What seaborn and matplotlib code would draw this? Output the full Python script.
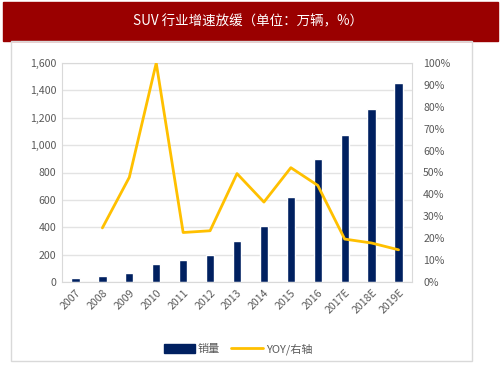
import numpy as np
import pandas as pd
import matplotlib
matplotlib.use("Agg")
import matplotlib.pyplot as plt
import matplotlib.patches as mpatches
from matplotlib.lines import Line2D
from matplotlib.ticker import FuncFormatter, MultipleLocator
import seaborn as sns

# Data
years = ['2007', '2008', '2009', '2010', '2011', '2012', '2013', '2014',
         '2015', '2016', '2017E', '2018E', '2019E']
sales = [32, 45, 66, 132, 159, 200, 296, 407, 622, 900, 1074, 1264, 1453]
yoy = [np.nan, 0.247, 0.478, 1.00, 0.226, 0.234, 0.495, 0.365,
       0.522, 0.441, 0.196, 0.178, 0.147]

df = pd.DataFrame({'year': years, 'sales': sales, 'yoy': yoy})
df['pos'] = np.arange(len(df))

sns.set_style("white")
plt.rcParams['font.family'] = ['Noto Sans CJK SC', 'DejaVu Sans']

bar_color = '#002060'
line_color = '#FFC000'
tick_color = '#595959'
grid_color = '#E3E3E3'

fig = plt.figure(figsize=(5.03, 3.78), dpi=100)

# Title banner and outer frame
fig.patches.append(mpatches.Rectangle((3 / 503, 1 - 41 / 378), 495 / 503, 39 / 378,
                                      transform=fig.transFigure, color='#9A0000', zorder=0))
fig.patches.append(mpatches.Rectangle((11 / 503, 1 - 361 / 378), 461 / 503, 320 / 378,
                                      transform=fig.transFigure, fill=False,
                                      edgecolor='#D9D9D9', linewidth=1, zorder=0))
fig.text(248 / 503, 1 - 21 / 378, 'SUV 行业增速放缓（单位：万辆，%）', color='white',
         fontsize=9.7, ha='center', va='center')

ax = fig.add_axes([62 / 503, 1 - 282 / 378, 350 / 503, 219 / 378])
sns.barplot(data=df, x='year', y='sales', color=bar_color, width=0.31,
            saturation=1, ax=ax, zorder=2)
ax.set_ylim(0, 1600)
ax.yaxis.set_major_locator(MultipleLocator(200))
ax.yaxis.set_major_formatter(FuncFormatter(lambda v, p: f'{int(v):,}'))
ax.set_xlim(-0.5, len(years) - 0.5)
ax.set_xlabel('')
ax.set_ylabel('')
ax.grid(axis='y', color=grid_color, linewidth=1, zorder=0)
ax.set_axisbelow(True)
for s in ax.spines.values():
    s.set_color('#D9D9D9')
    s.set_linewidth(0.8)
ax.tick_params(axis='both', colors=tick_color, labelsize=7.6, length=0, pad=4)
plt.setp(ax.get_xticklabels(), rotation=45, ha='right', rotation_mode='anchor')

ax2 = ax.twinx()
sns.lineplot(data=df, x='pos', y='yoy', color=line_color, linewidth=2, ax=ax2)
ax2.set_ylim(0, 1.0)
ax2.yaxis.set_major_locator(MultipleLocator(0.1))
ax2.yaxis.set_major_formatter(FuncFormatter(lambda v, p: f'{v * 100:.0f}%'))
ax2.set_ylabel('')
ax2.set_xlabel('')
ax2.set_xlim(-0.5, len(years) - 0.5)
for s in ax2.spines.values():
    s.set_visible(False)
ax2.tick_params(axis='y', colors=tick_color, labelsize=7.6, length=0, pad=8)

handles = [mpatches.Patch(color=bar_color, label='销量'),
           Line2D([0], [0], color=line_color, linewidth=2, label='YOY/右轴')]
leg = fig.legend(handles=handles, loc='center', bbox_to_anchor=(238 / 503, 1 - 349 / 378),
                 ncol=2, frameon=False, fontsize=8, handlelength=2.8, handleheight=0.8,
                 columnspacing=1.0, handletextpad=0.3)
for t in leg.get_texts():
    t.set_color(tick_color)

fig.savefig('out.png', dpi=100)
